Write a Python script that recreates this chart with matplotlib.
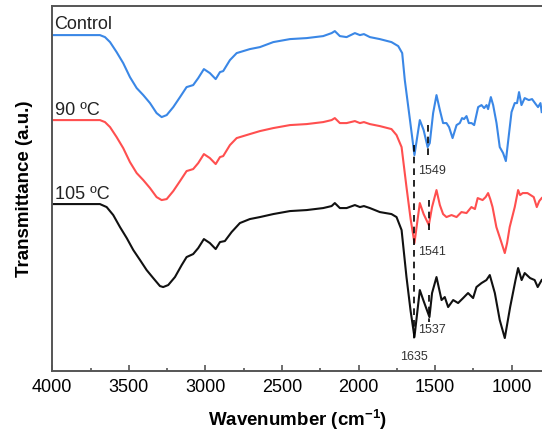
import matplotlib
matplotlib.use("Agg")
import matplotlib.pyplot as plt
from matplotlib.ticker import MultipleLocator

plt.rcParams["font.family"] = ["Liberation Sans", "DejaVu Sans"]
plt.rcParams["mathtext.fontset"] = "custom"
plt.rcParams["mathtext.rm"] = "Liberation Sans"
plt.rcParams["mathtext.bf"] = "Liberation Sans:bold"

# FTIR spectra (wavenumber in cm-1, transmittance in a.u., already stacked)
wn_control = [4000, 3689, 3656, 3623, 3580, 3537, 3493, 3449, 3406, 3362, 3319, 3286, 3253, 3210,
              3166, 3123, 3080, 3047, 3010, 2971, 2933, 2905, 2884, 2840, 2796, 2710, 2644, 2557,
              2448, 2339, 2231, 2176, 2155, 2122, 2078, 2024, 1991, 1965, 1926, 1861, 1785, 1741,
              1715, 1698, 1665, 1635, 1600, 1575, 1549, 1535, 1513, 1491, 1469, 1448, 1426, 1409,
              1386, 1360, 1339, 1324, 1311, 1295, 1280, 1262, 1245, 1219, 1197, 1180, 1164, 1154,
              1136, 1121, 1099, 1078, 1056, 1038, 1017, 1001, 980, 965, 952, 936, 915, 888,
              867, 843, 828, 812, 804]
t_control = [336, 336, 334, 329, 319, 308, 294, 283, 276, 268, 258, 254, 256, 264,
             274, 284, 286, 293, 302, 298, 292, 299, 300, 311, 318, 322, 324, 329,
             332, 333, 335, 338, 340, 335, 334, 338, 336, 337, 334, 332, 329, 325,
             318, 291, 252, 216, 251, 241, 224, 228, 258, 276, 261, 248, 248, 244,
             233, 246, 248, 253, 252, 255, 248, 248, 246, 264, 266, 263, 266, 262,
             274, 266, 248, 224, 218, 210, 238, 259, 268, 268, 279, 266, 273, 271,
             272, 267, 264, 268, 259]

wn_90 = [4000, 3689, 3656, 3623, 3580, 3537, 3493, 3449, 3406, 3362, 3319, 3286, 3253, 3210,
         3166, 3123, 3080, 3047, 3010, 2971, 2933, 2905, 2884, 2840, 2796, 2710, 2644, 2557,
         2448, 2339, 2231, 2176, 2155, 2122, 2078, 2024, 1991, 1965, 1926, 1861, 1785, 1752,
         1719, 1687, 1660, 1635, 1600, 1575, 1541, 1520, 1491, 1469, 1448, 1426, 1393, 1360,
         1328, 1295, 1263, 1240, 1222, 1190, 1170, 1154, 1140, 1125, 1100, 1070, 1045, 1030,
         1013, 980, 958, 945, 928, 897, 856, 836, 820, 804]
t_90 = [251, 251, 249, 244, 234, 223, 209, 198, 191, 183, 174, 171, 172, 180,
        190, 200, 202, 208, 217, 213, 207, 214, 215, 226, 233, 237, 240, 243,
        246, 247, 249, 251, 253, 248, 248, 250, 248, 249, 247, 245, 242, 236,
        224, 184, 152, 128, 168, 157, 146, 164, 181, 166, 157, 154, 156, 154,
        159, 158, 164, 162, 173, 171, 174, 178, 172, 164, 144, 130, 118, 128,
        144, 164, 181, 176, 178, 178, 174, 164, 170, 173]

wn_105 = [4000, 3689, 3645, 3602, 3558, 3514, 3471, 3427, 3384, 3341, 3297, 3276, 3243, 3199,
          3155, 3123, 3080, 3047, 3010, 2971, 2933, 2905, 2873, 2829, 2775, 2710, 2644, 2557,
          2448, 2339, 2231, 2176, 2155, 2122, 2078, 2024, 1991, 1965, 1926, 1861, 1785, 1752,
          1719, 1687, 1660, 1635, 1600, 1575, 1537, 1520, 1491, 1458, 1437, 1415, 1382, 1350,
          1317, 1285, 1252, 1230, 1197, 1165, 1143, 1110, 1078, 1045, 1010, 975, 958, 935,
          915, 880, 850, 830, 804]
t_105 = [167, 167, 164, 156, 144, 133, 121, 111, 101, 93, 85, 84, 86, 94,
         106, 114, 117, 123, 132, 128, 122, 129, 130, 139, 148, 152, 154, 157,
         160, 161, 163, 165, 168, 163, 163, 166, 164, 165, 163, 159, 157, 154,
         141, 94, 60, 34, 81, 70, 54, 78, 94, 71, 74, 64, 71, 68,
         73, 78, 73, 84, 88, 91, 96, 78, 51, 33, 64, 91, 103, 91,
         98, 93, 91, 84, 91]

names = ["Control", "90 ºC", "105 ºC"]
name_y = [347, 261, 177]
colors = ["#3a87e6", "#ff4f4f", "#111111"]

# peak markers: position, dash top/bottom, label height
peak_main = 1635
peak_main_span = (226, 29)
amide2 = [1549, 1541, 1537]
amide2_span = [(246, 211), (171, 136), (76, 49)]
amide2_label_y = [200, 119, 41]

fig = plt.figure(figsize=(5.42, 4.36), dpi=100)
ax = fig.add_axes([0.0965, 0.149, 0.9035, 0.837])

for wn, t, c in zip([wn_control, wn_90, wn_105], [t_control, t_90, t_105], colors):
    ax.plot(wn, t, color=c, lw=1.5, solid_joinstyle="round")

for name, y in zip(names, name_y):
    ax.text(3985, y, name, fontsize=13, va="center", ha="left", color="#222222")

ax.plot([peak_main, peak_main], peak_main_span, ls=(0, (4, 3)), color="black", lw=1.2)
ax.text(peak_main + 5, 14, str(peak_main), fontsize=9, ha="center", va="center", color="#333333")
for p, span, ly in zip(amide2, amide2_span, amide2_label_y):
    ax.plot([p, p], span, ls=(0, (4, 3)), color="black", lw=1.2)
    ax.text(1613, ly, str(p), fontsize=9, ha="left", va="center", color="#333333")

ax.set_xlim(4000, 802)
ax.set_ylim(0, 365)
ax.xaxis.set_major_locator(MultipleLocator(500))
ax.xaxis.set_minor_locator(MultipleLocator(250))
ax.set_yticks([])
ax.tick_params(axis="x", which="major", direction="in", length=4, width=1.2,
               labelsize=13, pad=6, color="#555555")
ax.tick_params(axis="x", which="minor", direction="in", length=2, width=1.2, color="#555555")
for s in ["left", "bottom", "top"]:
    ax.spines[s].set_color("#555555")
    ax.spines[s].set_linewidth(1.4)
ax.spines["right"].set_visible(False)

ax.set_xlabel("Wavenumber (cm$^{\\mathbf{-1}}$)", fontsize=13.5, fontweight="bold", labelpad=8)
ax.set_ylabel("Transmittance (a.u.)", fontsize=13.5, fontweight="bold", labelpad=14)

fig.savefig("out.png", dpi=100)
